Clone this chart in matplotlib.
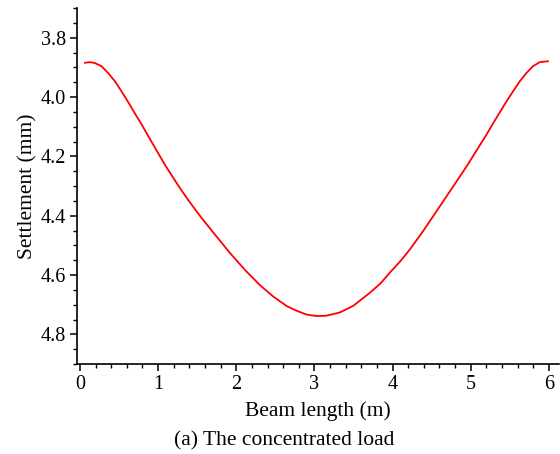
import matplotlib
matplotlib.use("Agg")
import matplotlib.pyplot as plt
from matplotlib.ticker import MultipleLocator

plt.rcParams['font.family'] = ['Liberation Serif', 'DejaVu Serif']

beam_x = [0.064, 0.128, 0.192, 0.277, 0.362, 0.448, 0.533, 0.618, 0.703, 0.789,
          0.873, 0.959, 1.087, 1.25, 1.385, 1.55, 1.726, 1.918, 2.11, 2.3, 2.472,
          2.65, 2.771, 2.9, 3.03, 3.15, 3.325, 3.5, 3.708, 3.85, 3.964, 4.1, 4.22,
          4.39, 4.6, 4.817, 4.966, 5.029, 5.115, 5.201, 5.285, 5.371, 5.456, 5.541,
          5.627, 5.712, 5.797, 5.882, 5.989]
settlement = [3.884, 3.882, 3.885, 3.896, 3.919, 3.947, 3.981, 4.017, 4.055, 4.092,
              4.131, 4.170, 4.228, 4.295, 4.347, 4.405, 4.463, 4.525, 4.582, 4.633, 4.672,
              4.705, 4.720, 4.733, 4.738, 4.737, 4.726, 4.703, 4.660, 4.627, 4.592, 4.553, 4.514,
              4.452, 4.370, 4.285, 4.226, 4.199, 4.163, 4.127, 4.089, 4.052, 4.015, 3.981,
              3.947, 3.919, 3.896, 3.882, 3.879]

xlabel = "Beam length (m)"
ylabel = "Settlement (mm)"
caption = "(a) The concentrated load"

fig = plt.figure(figsize=(5.6, 4.54), dpi=100)
ax = fig.add_axes([0.1375, 0.198, 0.86, 0.784])
ax.plot(beam_x, settlement, color='#ff0000', lw=1.3, solid_joinstyle='round')

ax.set_xlim(-0.038, 6.125)
ax.set_ylim(4.9, 3.7)
ax.xaxis.set_major_locator(MultipleLocator(1))
ax.xaxis.set_minor_locator(MultipleLocator(0.2))
ax.yaxis.set_major_locator(MultipleLocator(0.2))
ax.yaxis.set_minor_locator(MultipleLocator(0.05))
ax.yaxis.set_major_formatter(plt.FuncFormatter(lambda v, p: f"{v:.1f}"))

for s in ['top', 'right']:
    ax.spines[s].set_visible(False)
for s in ['left', 'bottom']:
    ax.spines[s].set_linewidth(1.2)
ax.tick_params(which='major', direction='out', length=5, width=1.1, labelsize=14.5, pad=3)
ax.tick_params(which='minor', direction='out', length=3, width=1.0)

ax.set_xlabel(xlabel, fontsize=15.5, labelpad=5)
ax.set_ylabel(ylabel, fontsize=15.5, labelpad=2)
fig.text(0.508, 0.028, caption, ha='center', va='center', fontsize=15.5)

fig.savefig("out.png", dpi=100)
